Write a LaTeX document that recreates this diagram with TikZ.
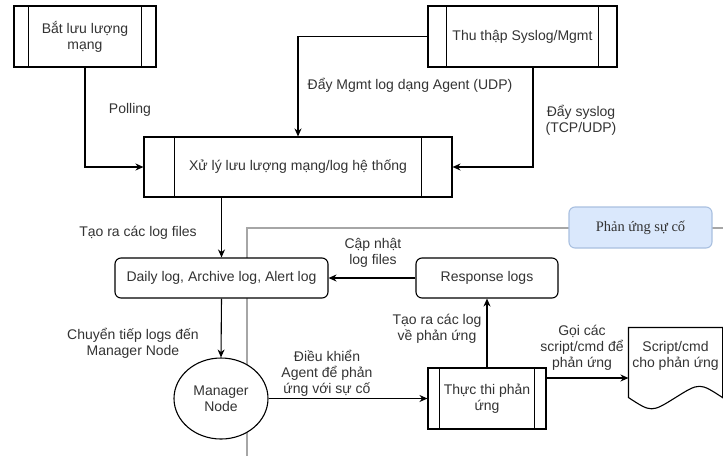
\documentclass[tikz,border=0pt]{standalone}
\usepackage{fontspec}
\setmainfont{Liberation Sans}
\newfontfamily\serifvn{Liberation Serif}
\usepackage{xcolor}
\usetikzlibrary{arrows.meta,calc,positioning,shapes.geometric}
\newcommand{\diagfont}{\fontsize{14pt}{16pt}\selectfont}
\definecolor{txt}{HTML}{333333}
\definecolor{tagfill}{HTML}{DAE8FC}
\definecolor{tagline}{HTML}{A9C0E0}
\definecolor{laneline}{HTML}{A6A6A6}
\tikzset{
    procbox/.style={draw, fill=white, rectangle, align=center, inner sep=0pt,
        path picture={
            \draw ($(path picture bounding box.north west)!0.1!(path picture bounding box.north east)$)
               -- ($(path picture bounding box.south west)!0.1!(path picture bounding box.south east)$);
            \draw ($(path picture bounding box.north west)!0.9!(path picture bounding box.north east)$)
               -- ($(path picture bounding box.south west)!0.9!(path picture bounding box.south east)$);
        }},
    logbox/.style={draw, fill=white, rounded corners=6pt, minimum height=40pt, inner sep=0pt, align=center},
    mgrnode/.style={ellipse, draw, fill=white, minimum width=94pt, minimum height=81pt, inner sep=0pt, align=center},
    docnode/.style={minimum width=93pt, minimum height=56pt, inner sep=0pt, align=center},
    lanetag/.style={draw=tagline, fill=tagfill, rounded corners=6pt, minimum width=143pt, minimum height=41pt, font=\serifvn\fontsize{14.5pt}{17pt}\selectfont},
    lbl/.style={align=center, inner sep=0pt},
    flow/.style={draw, ->, >={Stealth[length=8pt,width=7pt]}},
}
\begin{document}
\begin{tikzpicture}[x=1pt, y=-1pt, font=\diagfont, text=txt, line width=1.1pt]
    \useasboundingbox (0,0) rectangle (723,456);

    % vung phan ung
    \draw[laneline, line width=1.6pt] (247,456) -- (247,228) -- (723,228);
    \node[lanetag] (tag) at (640.5,227.5) {Phản ứng sự cố};

    \node[procbox, minimum width=142pt, minimum height=61pt] (capture) at (85,36.5) {Bắt lưu lượng\\mạng};
    \node[procbox, minimum width=189pt, minimum height=61pt] (collect) at (522.5,36.5) {Thu thập Syslog/Mgmt};
    \node[procbox, minimum width=308pt, minimum height=60pt] (process) at (298,167) {Xử lý lưu lượng mạng/log hệ thống};
    \node[logbox, minimum width=213pt] (logs) at (221.5,278) {Daily log, Archive log, Alert log};
    \node[logbox, minimum width=142pt] (resplogs) at (487,278) {Response logs};
    \node[mgrnode] (manager) at (221,398.5) {Manager\\Node};
    \node[procbox, minimum width=118pt, minimum height=61pt] (execute) at (487,398.5) {Thực thi phản\\ứng};
    \node[docnode] (script) at (675.5,356) {Script/cmd\\cho phản ứng};
    \draw (script.north west) -- (script.north east) -- ($(script.south east)+(0,13)$)
        .. controls ($(script.south east)+(-23,-2)$) .. ($(script.south)+(0,13)$)
        .. controls ($(script.south west)+(23,28)$) .. ($(script.south west)+(0,13)$) -- cycle;
    \coordinate (callout) at ([yshift=20.5pt]execute.east);

    \draw[flow] (capture.south) |- (process.west);
    \draw[flow] (collect.west) -| (process.north);
    \draw[flow] ([xshift=10.5pt]collect.south) |- (process.east);
    \draw[flow] (logs.north |- process.south) -- (logs.north);
    \draw[flow] (resplogs.west) -- (logs.east);
    \draw[flow] (logs.south) -- (manager.north);
    \draw[flow] (manager.east) -- (execute.west);
    \draw[flow] (execute.north) -- (resplogs.south);
    \draw[flow] (callout) -- (script.west |- callout);

    \node[lbl] (l1) at (130,110) {Polling};
    \node[lbl] (l2) at (410,85) {Đẩy Mgmt log dạng Agent (UDP)};
    \node[lbl] (l3) at (581,120.5) {Đẩy syslog\\(TCP/UDP)};
    \node[lbl] (l4) at (138,233) {Tạo ra các log files};
    \node[lbl] (l5) at (373,253) {Cập nhật\\log files};
    \node[lbl] (l6) at (133,343) {Chuyển tiếp logs đến\\Manager Node};
    \node[lbl] (l7) at (327,373) {Điều khiển\\Agent để phản\\ứng với sự cố};
    \node[lbl] (l8) at (437,329) {Tạo ra các log\\về phản ứng};
    \node[lbl] (l9) at (582,348) {Gọi các\\script/cmd để\\phản ứng};
\end{tikzpicture}
\end{document}
